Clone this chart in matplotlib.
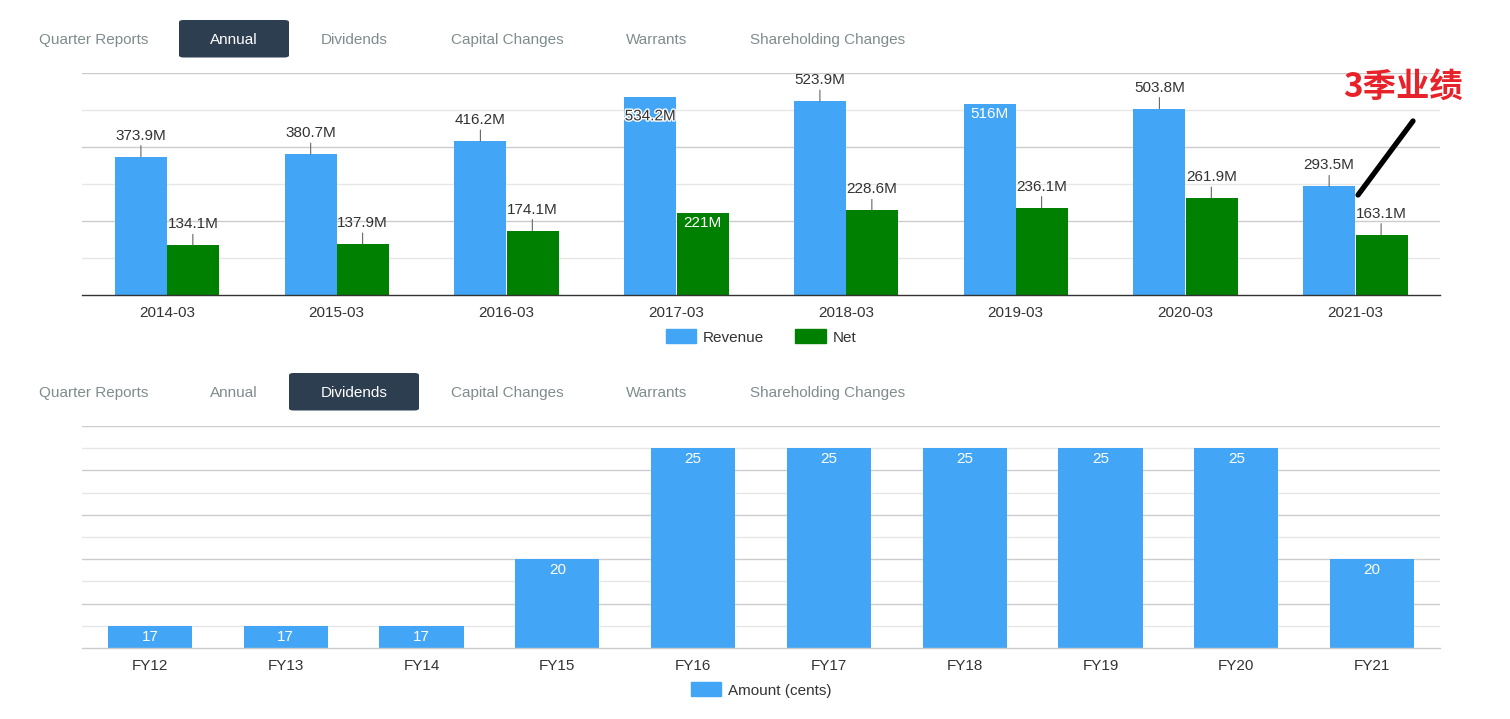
import matplotlib
matplotlib.use("Agg")
import matplotlib.pyplot as plt
from matplotlib.patches import FancyBboxPatch, Rectangle
from matplotlib.lines import Line2D
import matplotlib.patheffects as pe
import numpy as np

# ---------------- data ----------------
years = ["2014-03", "2015-03", "2016-03", "2017-03", "2018-03", "2019-03", "2020-03", "2021-03"]
revenue = [373.9, 380.7, 416.2, 534.2, 523.9, 516.0, 503.8, 293.5]
net = [134.1, 137.9, 174.1, 221.0, 228.6, 236.1, 261.9, 163.1]
revenue_labels = ["373.9M", "380.7M", "416.2M", "534.2M", "523.9M", "516M", "503.8M", "293.5M"]
net_labels = ["134.1M", "137.9M", "174.1M", "221M", "228.6M", "236.1M", "261.9M", "163.1M"]

fy = ["FY12", "FY13", "FY14", "FY15", "FY16", "FY17", "FY18", "FY19", "FY20", "FY21"]
dividends = [17, 17, 17, 20, 25, 25, 25, 25, 25, 20]

tabs = ["Quarter Reports", "Annual", "Dividends", "Capital Changes", "Warrants", "Shareholding Changes"]
annotation_text = "3季业绩"

# ---------------- style ----------------
W, H = 1510, 719
BLUE = "#42a5f5"
GREEN = "#008000"
TXT = "#333333"
TAB = "#7f8c8d"
NAVY = "#2c3e50"
FONT = "Liberation Sans"
LFS = 11
plt.rcParams["font.family"] = [FONT, "DejaVu Sans"]

fig = plt.figure(figsize=(W / 100, H / 100), dpi=100)
fig.patch.set_facecolor("white")


def fx(x):
    return x / W


def fy_(y):
    return 1 - y / H


def draw_tabs(box_top, active, box):
    xs = [39, 210, 321, 451, 626, 750]
    baseline = box_top + 24
    for i, (t, x) in enumerate(zip(tabs, xs)):
        if i == active:
            x0, x1 = box
            r = FancyBboxPatch((fx(x0), fy_(box_top + 37.5)), fx(x1 - x0), 37.5 / H,
                               boxstyle="round,pad=0,rounding_size=0.003",
                               transform=fig.transFigure, facecolor=NAVY, edgecolor="none")
            fig.add_artist(r)
            fig.text(fx((x0 + x1) / 2), fy_(baseline), t, ha="center", va="baseline",
                     color="white", fontsize=11)
        else:
            fig.text(fx(x), fy_(baseline), t, ha="left", va="baseline", color=TAB, fontsize=11)


draw_tabs(20, 1, (179, 289))
draw_tabs(373, 2, (289, 419))


def style_axes(ax, ymin, ymax, major, minor, base_color):
    ax.set_ylim(ymin, ymax)
    for s in ["left", "right", "top"]:
        ax.spines[s].set_visible(False)
    ax.spines["bottom"].set_color(base_color)
    ax.spines["bottom"].set_linewidth(1)
    ax.set_yticks([])
    for v in np.arange(ymin + minor, ymax + 1e-9, minor):
        is_major = abs(((v - ymin) / major) - round((v - ymin) / major)) < 1e-6
        ax.axhline(v, color="#cccccc" if is_major else "#e6e6e6", lw=1, zorder=0)
    ax.tick_params(axis="x", length=0, pad=8, labelsize=LFS, labelcolor=TXT)


# ---------------- top chart ----------------
ax1 = fig.add_axes([fx(82), fy_(295), fx(1440 - 82), (295 - 73) / H])
x = np.arange(len(years))
bw = 0.306
ax1.bar(x - bw / 2, revenue, bw, color=BLUE, zorder=2, label="Revenue")
ax1.bar(x + bw / 2 + 0.003, net, bw, color=GREEN, zorder=2, label="Net")
ax1.set_xlim(-0.5, len(years) - 0.5)
ax1.set_xticks(x)
ax1.set_xticklabels(years)
style_axes(ax1, 0, 600, 200, 100, "#333333")

# label placement: "above" (with leader), "inside_halo", "inside_white"
rev_mode = ["above", "above", "above", "inside_halo", "above", "inside_white", "above", "above"]
net_mode = ["above", "above", "above", "inside_white", "above", "above", "above", "above"]


def put_labels(xs, vals, labels, modes):
    for xi, v, lab, m in zip(xs, vals, labels, modes):
        if m == "above":
            ax1.annotate("", xy=(xi, v), xytext=(0, 11), textcoords="offset pixels",
                         arrowprops=dict(arrowstyle="-", color="#666666", lw=0.8,
                                         shrinkA=0, shrinkB=0))
            ax1.annotate(lab, xy=(xi, v), xytext=(0, 21), textcoords="offset pixels",
                         ha="center", va="center", fontsize=LFS, color=TXT, zorder=4)
        elif m == "inside_halo":
            ax1.annotate(lab, xy=(xi, v), xytext=(0, -19), textcoords="offset pixels",
                         ha="center", va="center", fontsize=LFS, color=TXT, zorder=4,
                         path_effects=[pe.withStroke(linewidth=2, foreground="white")])
        else:
            ax1.annotate(lab, xy=(xi, v), xytext=(0, -10), textcoords="offset pixels",
                         ha="center", va="center", fontsize=LFS, color="white",
                         zorder=4)


put_labels(x - bw / 2, revenue, revenue_labels, rev_mode)
put_labels(x + bw / 2, net, net_labels, net_mode)

leg1 = fig.legend(handles=[Rectangle((0, 0), 1, 1, color=BLUE), Rectangle((0, 0), 1, 1, color=GREEN)],
                  labels=["Revenue", "Net"], loc="center", bbox_to_anchor=(fx(761), fy_(337)),
                  ncol=2, frameon=False, fontsize=LFS, handlelength=2.0, handleheight=1.0,
                  columnspacing=2.0, handletextpad=0.45)
for t in leg1.get_texts():
    t.set_color(TXT)

# ---------------- bottom chart ----------------
ax2 = fig.add_axes([fx(82), fy_(648), fx(1440 - 82), (648 - 426) / H])
x2 = np.arange(len(fy))
ax2.bar(x2, dividends, 0.62, color=BLUE, zorder=2, bottom=0)
ax2.set_xlim(-0.5, len(fy) - 0.5)
ax2.set_xticks(x2)
ax2.set_xticklabels(fy)
style_axes(ax2, 16, 26, 2, 1, "#cccccc")
for xi, v in zip(x2, dividends):
    ax2.annotate(str(v), xy=(xi, v), xytext=(0, -11), textcoords="offset pixels",
                 ha="center", va="center", fontsize=LFS, color="white", zorder=4)

leg2 = fig.legend(handles=[Rectangle((0, 0), 1, 1, color=BLUE)], labels=["Amount (cents)"],
                  loc="center", bbox_to_anchor=(fx(761), fy_(690)), frameon=False,
                  fontsize=LFS, handlelength=2.0, handleheight=1.0, handletextpad=0.45)
for t in leg2.get_texts():
    t.set_color(TXT)

# ---------------- annotation ----------------
fig.add_artist(Line2D([fx(1358), fx(1413)], [fy_(195), fy_(121)], transform=fig.transFigure,
                      color="black", lw=3.8, solid_capstyle="round"))
fig.text(fx(1403), fy_(88), annotation_text, ha="center", va="center", color="#e8222a",
         fontsize=24, fontweight="bold", family=["Noto Sans CJK SC", "DejaVu Sans"])

fig.savefig("out.png", dpi=100, facecolor="white")
